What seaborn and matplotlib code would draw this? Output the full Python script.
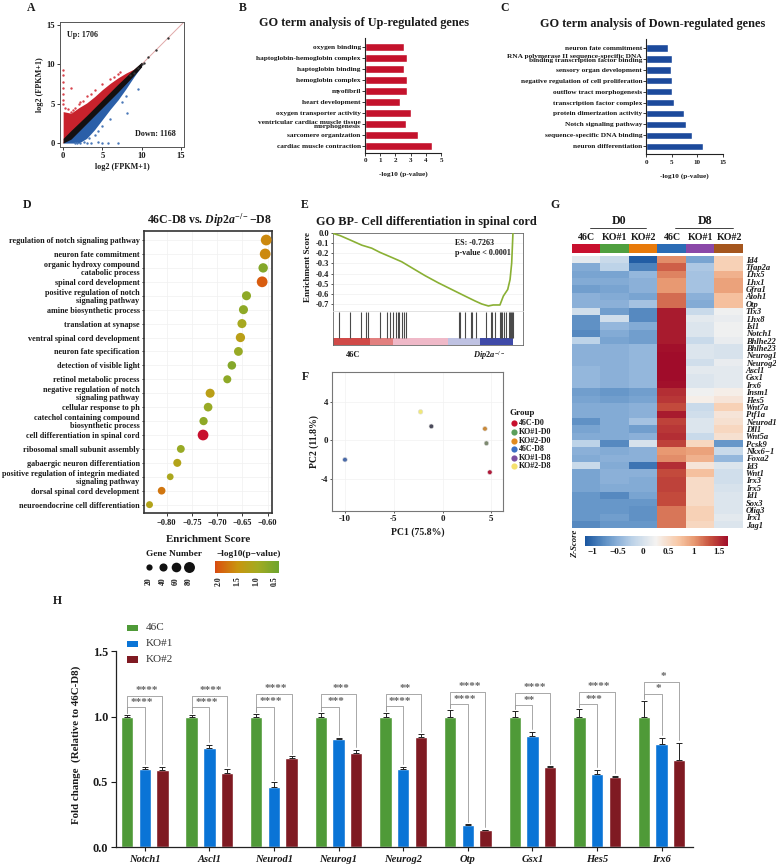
import numpy as np
import pandas as pd
import matplotlib
matplotlib.use("Agg")
import matplotlib.pyplot as plt
from matplotlib.colors import LinearSegmentedColormap, Normalize
from matplotlib.patches import Rectangle
import seaborn as sns

# =============================
# Panel A - scatter, dense clouds given as read-off envelopes plus single points
cloud_x = [0, 1, 2, 3, 4, 5, 6, 7, 8, 9, 10]
red_upper = [4.0, 3.8, 4.5, 5.1, 5.9, 6.8, 7.6, 8.3, 8.9, 9.4, 10.2]
blue_lower = [0.0, 0.0, 0.0, 0.6, 1.7, 3.0, 4.3, 5.5, 6.9, 8.4, 9.8]
core_upper = [0.6, 1.6, 2.55, 3.5, 4.5, 5.5, 6.5, 7.5, 8.45, 9.4, 10.3]
core_lower = [0.0, 0.5, 1.5, 2.5, 3.5, 4.5, 5.5, 6.5, 7.55, 8.6, 9.7]
red_x = [0, 0, 0, 0, 0, 0, 0, 1, 1.5, 2, 2.2, 0.3, 0.6, 1, 1.3, 2.5, 3, 3.5, 4, 5, 6, 7, 7.2, 6.5]
red_y = [9.3, 8.6, 7.8, 7, 6.3, 5.5, 5, 7, 4.5, 5, 5.2, 4.5, 4.3, 4, 4.2, 5.3, 6, 6.2, 6.7, 7.5, 8.2, 8.8, 9, 8.4]
blue_x = [1.5, 1.8, 2.2, 2.6, 3, 3.5, 4.5, 5, 5.7, 7, 3.3, 4, 4.5, 5, 6, 8.1, 9.5, 7.5, 8]
blue_y = [0, 0, 0, 0.1, 0, 0, 0.1, 0, 0, 0, 0.6, 1, 1.5, 2.2, 3, 3.8, 6.9, 5.2, 6]
black_x = [8.5, 9, 9.5, 10, 10.3, 10.8, 11.8, 13.4]
black_y = [8.6, 8.9, 9.6, 10.1, 10.2, 10.9, 11.8, 13.4]

# Panels B, C
up_terms = ["oxygen binding", "haptoglobin-hemoglobin complex", "haptoglobin binding", "hemoglobin complex",
            "myofibril", "heart development", "oxygen transporter activity",
            "ventricular cardiac muscle tissue\nmorphogenesis", "sarcomere organization", "cardiac muscle contraction"]
up_values = [2.55, 2.75, 2.55, 2.75, 2.75, 2.3, 3.0, 2.7, 3.5, 4.4]
down_terms = ["neuron fate commitment", "RNA polymerase II sequence-specific DNA\nbinding transcription factor binding",
              "sensory organ development", "negative regulation of cell proliferation", "outflow tract morphogenesis",
              "transcription factor complex", "protein dimerization activity", "Notch signaling pathway",
              "sequence-specific DNA binding", "neuron differentiation"]
down_values = [4.2, 5.0, 4.8, 5.05, 5.1, 5.5, 7.4, 7.8, 9.0, 11.2]

# Panel D
d_terms = ["regulation of notch signaling pathway", "neuron fate commitment",
           "organic hydroxy compound\ncatabolic process", "spinal cord development",
           "positive regulation of notch\nsignaling pathway", "amine biosynthetic process", "translation at synapse",
           "ventral spinal cord development", "neuron fate specification", "detection of visible light",
           "retinol metabolic process", "negative regulation of notch\nsignaling pathway", "cellular response to ph",
           "catechol containing compound\nbiosynthetic process", "cell differentiation in spinal cord",
           "ribosomal small subunit assembly", "gabaergic neuron differentiation",
           "positive regulation of integrin mediated\nsignaling pathway", "dorsal spinal cord development",
           "neuroendocrine cell differentiation"]
d_score = [-0.603, -0.605, -0.609, -0.611, -0.642, -0.648, -0.651, -0.654, -0.658, -0.671, -0.680,
           -0.714, -0.718, -0.727, -0.728, -0.772, -0.779, -0.793, -0.810, -0.834]
d_genes = [80, 80, 60, 85, 55, 55, 55, 58, 52, 48, 42, 55, 50, 45, 80, 40, 42, 28, 38, 30]
d_logp = [1.6, 1.6, 0.7, 1.95, 0.8, 0.8, 1.05, 1.3, 0.9, 0.7, 0.8, 1.3, 0.9, 0.8, 2.3, 0.9, 1.2, 1.1, 1.75, 1.2]

# Panel E
rank_pos = [0, 4.1, 9.6, 16.1, 21.6, 26.2, 32.7, 38.2, 43.7, 51.1, 58.5, 65.9, 73.2, 78.8, 82.5, 86.2, 88.9, 92.6,
            94.5, 96.9, 98.2, 99.1, 99.8]
es_values = [0, -0.023, -0.066, -0.118, -0.148, -0.19, -0.24, -0.283, -0.342, -0.421, -0.493, -0.559, -0.624, -0.673,
             -0.703, -0.723, -0.713, -0.713, -0.624, -0.559, -0.46, -0.296, 0]
hit_ranks = [3.7, 9.8, 15.9, 18.6, 19.7, 26, 30.2, 31.7, 33.6, 35, 36, 36.7, 38.2, 39.5, 40.4, 69.7, 70.3, 73.4,
             76.4, 77.3, 79.3, 85, 87.6, 88.3, 90, 92.4, 93.1, 94, 95.1, 96.2, 97.5, 98, 98.6, 99.1, 99.7]
rank_edges = [0, 20.7, 33.6, 64, 81.5, 100]
rank_colors = ["#d04a48", "#e2807f", "#efb9c8", "#bfc2e2", "#3f4aa8"]

# Panel F
pca_groups = ["46C-D0", "KO#1-D0", "KO#2-D0", "46C-D8", "KO#1-D8", "KO#2-D8"]
pc1 = [4.85, 4.5, 4.35, -10, -1.15, -2.25]
pc2 = [-3.3, -0.3, 1.2, -2.0, 1.45, 2.95]
pca_colors = ["#c8102e", "#5b9f5b", "#e08a1e", "#3a6fc4", "#7b4fa0", "#f5e06e"]
pca_dots = ["#b01a3a", "#7d8a70", "#c98a3a", "#4a6aa8", "#4a4a5a", "#f0e878"]

# Panel G
genes = ["Id4", "Tfap2a", "Lhx5", "Lhx1", "Gfra1", "Atoh1", "Otp", "Tlx3", "Lhx8", "Isl1", "Notch1", "Bhlhe22",
         "Bhlhe23", "Neurog1", "Neurog2", "Ascl1", "Gsx1", "Irx6", "Insm1", "Hes5", "Wnt7a", "Ptf1a", "Neurod1",
         "Dll1", "Wnt5a", "Pcsk9", "Nkx6\u22121", "Foxa2", "Id3", "Wnt1", "Irx3", "Irx5", "Id1", "Sox3", "Olig3",
         "Irx1", "Jag1"]
z_46c_d0 = [0.1, -0.55, -0.6, -0.55, -0.65, -0.5, -0.5, -0.05, -0.75, -0.75, -0.8, -0.2, -0.5, -0.5, -0.5, -0.45,
            -0.45, -0.45, -0.65, -0.6, -0.55, -0.55, -0.75, -0.6, -0.55, -0.2, -0.5, -0.55, -0.1, -0.6, -0.6, -0.6,
            -0.7, -0.7, -0.7, -0.7, -0.8]
z_ko1_d0 = [-0.1, -0.2, -0.6, -0.55, -0.6, -0.55, -0.5, -0.65, -0.05, -0.45, -0.55, -0.6, -0.5, -0.5, -0.5, -0.5,
            -0.5, -0.5, -0.7, -0.65, -0.55, -0.55, -0.55, -0.55, -0.55, -0.8, -0.55, -0.5, -0.55, -0.5, -0.5, -0.55,
            -0.8, -0.7, -0.7, -0.65, -0.7]
z_ko2_d0 = [-1.1, -0.85, -0.45, -0.5, -0.5, -0.6, -0.35, -0.8, -0.8, -0.55, -0.65, -0.65, -0.45, -0.45, -0.45, -0.45,
            -0.45, -0.45, -0.65, -0.6, -0.5, -0.5, -0.35, -0.65, -0.5, 0.0, -0.5, -0.5, -0.95, -0.5, -0.55, -0.55,
            -0.6, -0.7, -0.75, -0.75, -0.7]
z_46c_d8 = [1.05, 1.25, 1.1, 1.0, 1.0, 1.2, 1.2, 1.6, 1.6, 1.6, 1.6, 1.6, 1.65, 1.67, 1.67, 1.67, 1.67, 1.65, 1.5,
            1.45, 1.35, 1.6, 1.4, 1.45, 1.5, 1.4, 1.0, 1.05, 1.5, 1.35, 1.4, 1.4, 1.35, 1.35, 1.15, 1.15, 1.15]
z_ko1_d8 = [-0.6, -0.3, -0.35, -0.35, -0.35, -0.5, -0.55, -0.1, 0.1, 0.05, 0.05, -0.1, 0.05, 0.05, -0.05, 0.1, 0.05,
            0.05, 0.2, 0.3, -0.1, -0.05, 0.05, 0.05, -0.1, 0.55, 0.95, 0.85, 0.4, 0.75, 0.5, 0.5, 0.5, 0.5, 0.6, 0.6,
            0.55]
z_ko2_d8 = [0.6, 0.6, 0.85, 0.95, 0.95, 0.75, 0.75, 0.2, 0.15, 0.2, 0.2, 0.15, 0.0, 0.0, 0.15, 0.1, 0.1, 0.1, 0.3,
            0.4, 0.6, 0.4, 0.45, 0.55, 0.45, -0.7, -0.1, -0.45, 0.05, -0.05, -0.05, 0.0, 0.05, 0.05, 0.05, 0.1, 0.05]
heat_cols = ["46C", "KO#1", "KO#2", "46C ", "KO#1 ", "KO#2 "]
anno_colors = ["#c8102e", "#4f9f3f", "#e87a0a", "#2b6cb5", "#8a48a8", "#a5561e"]

# Panel H
h_genes = ["Notch1", "Ascl1", "Neurod1", "Neurog1", "Neurog2", "Otp", "Gsx1", "Hes5", "Irx6"]
h_46c = [1.0] * 9
h_ko1 = [0.60, 0.76, 0.46, 0.825, 0.60, 0.165, 0.85, 0.56, 0.79]
h_ko2 = [0.59, 0.57, 0.685, 0.72, 0.845, 0.13, 0.61, 0.54, 0.67]
err_46c = [0.015, 0.015, 0.02, 0.03, 0.03, 0.05, 0.045, 0.055, 0.12]
err_ko1 = [0.015, 0.025, 0.035, 0.01, 0.015, 0.01, 0.035, 0.03, 0.045]
err_ko2 = [0.025, 0.03, 0.01, 0.025, 0.02, 0.003, 0.01, 0.005, 0.13]
inner_level = [1.07, 1.07, 1.075, 1.075, 1.08, 1.097, 1.087, 1.094, 1.176]
outer_level = [1.16, 1.16, 1.17, 1.17, 1.175, 1.19, 1.18, 1.186, 1.268]
inner_stars = ["****", "****", "****", "***", "****", "****", "**", "***", "*"]
outer_stars = ["****", "****", "****", "***", "**", "****", "****", "****", "*"]

# =============================

W, H = 776, 868
sns.set_theme(style="white")
plt.rcParams["font.family"] = ["Liberation Serif", "DejaVu Serif"]
plt.rcParams["font.weight"] = "bold"
plt.rcParams["mathtext.fontset"] = "custom"
plt.rcParams["mathtext.rm"] = "Liberation Serif:bold"
plt.rcParams["mathtext.it"] = "Liberation Serif:italic:bold"
plt.rcParams["mathtext.bf"] = "Liberation Serif:bold"
plt.rcParams["axes.unicode_minus"] = True
TXT = "#1a1a1a"

fig = plt.figure(figsize=(W / 100, H / 100), dpi=100)


def add(left, top, right, bottom, **kw):
    # axes from pixel edges of the reference
    return fig.add_axes([left / W, 1 - bottom / H, (right - left) / W, (bottom - top) / H], **kw)


# overlay in pixel coordinates for letters, headings and legends
ov = add(0, 0, W, H, zorder=20)
ov.set_xlim(0, W)
ov.set_ylim(H, 0)
ov.axis("off")
ov.patch.set_alpha(0)


def label(x, y, s, size=6, ha="center", va="center", **kw):
    ov.text(x, y, s, fontsize=size, ha=ha, va=va, color=kw.pop("color", TXT), **kw)


for letter, lx, ly in [("A", 31, 8), ("B", 243, 8), ("C", 505, 8), ("D", 27, 205),
                       ("E", 305, 205), ("F", 305, 377), ("G", 555, 205), ("H", 57, 601)]:
    label(lx, ly, letter, size=8.5)

# ---- A
ax = add(60, 22, 184, 147)
ax.set_xlim(-0.4, 15.4)
ax.set_ylim(-0.5, 15.4)
ax.plot([0, 15.4], [0, 15.4], color="#e0a8a8", lw=0.7, zorder=1)
ax.fill_between(cloud_x, cloud_x, red_upper, color="#c8222c", lw=0, zorder=2)
ax.fill_between(cloud_x, blue_lower, cloud_x, color="#2b5fa8", lw=0, zorder=2)
ax.fill_between(cloud_x, core_lower, core_upper, color="#141010", lw=0, zorder=3)
sns.scatterplot(x=red_x, y=red_y, color="#d8434c", s=3, linewidth=0, ax=ax, zorder=2)
sns.scatterplot(x=blue_x, y=blue_y, color="#4a78b8", s=3, linewidth=0, ax=ax, zorder=2)
sns.scatterplot(x=black_x, y=black_y, color="#333333", s=3, linewidth=0, ax=ax, zorder=3)
ax.set_xticks([0, 5, 10, 15])
ax.set_yticks([0, 5, 10, 15])
ax.tick_params(labelsize=6.2, length=2, width=0.6, pad=1.5, left=True, bottom=True, colors=TXT)
for sp in ax.spines.values():
    sp.set_linewidth(0.7)
    sp.set_color("#555555")
ax.text(0.5, 13.7, "Up: 1706", fontsize=5.8, va="center", color=TXT)
ax.text(9.2, 1.1, "Down: 1168", fontsize=5.9, va="center", color=TXT)
ax.set_xlabel("log2 (FPKM+1)", fontsize=5.9, labelpad=2, color=TXT, fontweight="bold")
ax.set_ylabel("log2 (FPKM+1)", fontsize=5.9, labelpad=2, color=TXT, fontweight="bold")


def go_bars(ax, terms, values, color, xmax, xticks, ylim):
    df = pd.DataFrame({"term": terms, "value": values})
    sns.barplot(data=df, x="value", y="term", color=color, width=0.7, saturation=1, ax=ax)
    ax.set_xlim(0, xmax)
    ax.set_ylim(*ylim)
    ax.set_xticks(xticks)
    ax.set_xlabel("-log10 (p-value)", fontsize=5.2, labelpad=6, color=TXT, fontweight="bold")
    ax.set_ylabel("")
    ax.tick_params(axis="x", labelsize=5, length=2, width=0.6, pad=2, bottom=True, colors=TXT)
    ax.tick_params(axis="y", labelsize=5.3, length=2, width=0.6, pad=1, left=True, colors=TXT)
    for lab in ax.get_yticklabels():
        lab.set_linespacing(0.8)
    sns.despine(ax=ax)
    for sp in ("left", "bottom"):
        ax.spines[sp].set_linewidth(0.8)
        ax.spines[sp].set_color("#222222")


# ---- B
ax = add(365, 38, 441, 152.7)
go_bars(ax, up_terms, up_values, "#c4122c", 5, [0, 1, 2, 3, 4, 5], (9.6, -0.85))
label(364, 23, "GO term analysis of Up-regulated genes", size=8.8)

# ---- C
ax = add(646.3, 39, 722.7, 154)
go_bars(ax, down_terms, down_values, "#1c4a9c", 15, [0, 5, 10, 15], (9.7, -0.8))
label(653, 24, "GO term analysis of Down-regulated genes", size=8.8)

# ---- D
logp_cmap = LinearSegmentedColormap.from_list(
    "logp", [(0, "#6fa52f"), (0.278, "#a3ab22"), (0.556, "#c9960f"), (0.833, "#d9560f"), (1, "#c8102e")])
logp_norm = Normalize(0.5, 2.3)
ax = add(143.7, 230.7, 272, 513)
d_df = pd.DataFrame({"term": d_terms, "score": d_score, "genes": d_genes, "logp": d_logp})
d_df["row"] = np.arange(len(d_df))
sns.scatterplot(data=d_df, x="score", y="row", size="genes", sizes=(18, 60), size_norm=(20, 80),
                hue="logp", palette=logp_cmap, hue_norm=logp_norm, linewidth=0, legend=False,
                ax=ax, clip_on=False, zorder=3)
ax.set_xlim(-0.8455, -0.5915)
ax.set_ylim(19.6, -0.67)
ax.set_yticks(d_df["row"], d_terms)
ax.set_xticks([-0.80, -0.75, -0.70, -0.65, -0.60], ["\u22120.80", "\u22120.75", "\u22120.70", "\u22120.65", "\u22120.60"])
ax.grid(True, color="#f0f0f0", lw=0.5)
ax.set_axisbelow(True)
ax.tick_params(axis="x", labelsize=6, length=2, width=0.6, pad=2, bottom=True, colors=TXT)
ax.tick_params(axis="y", labelsize=5.9, length=1.5, width=0.6, pad=1.5, left=True, colors=TXT)
for lab in ax.get_yticklabels():
    lab.set_linespacing(1.0)
ax.set_xlabel("Enrichment Score", fontsize=7.8, labelpad=6, color=TXT, fontweight="bold")
ax.set_ylabel("")
for sp in ax.spines.values():
    sp.set_linewidth(1.2)
    sp.set_color("#333333")
label(209, 220, r"46C-D8 vs. $\mathit{Dip2a}^{-/-}$$-$D8", size=8.5)

# legends of D
label(174.5, 554, "Gene Number", size=6.7)
label(248.5, 554, "\u2212log10(p\u2212value)", size=6.7)
for gx, gn, gs in zip([149, 162.7, 175.7, 189], [20, 40, 60, 80], [20, 34, 48, 62]):
    ov.scatter(gx, 567, s=gs, color="#111111", linewidth=0)
    label(gx, 581, str(gn), size=5.6, rotation=90)
grad = add(215, 560.7, 278.7, 573)
grad.imshow(np.linspace(2.05, 0.5, 64).reshape(1, -1), aspect="auto", cmap=logp_cmap, norm=logp_norm)
grad.axis("off")
for tx, tv in zip([219, 237.7, 256.7, 275], ["2.0", "1.5", "1.0", "0.5"]):
    label(tx, 581, tv, size=5.6, rotation=90)

# ---- E
ax = add(332.7, 233.3, 522.7, 310.7)
sns.lineplot(x=rank_pos, y=es_values, color="#8ab034", lw=1.2, ax=ax, estimator=None, zorder=3)
ax.set_xlim(0, 105.2)
ax.set_ylim(-0.77, 0.0)
ax.set_xticks([])
ax.set_yticks([0, -0.1, -0.2, -0.3, -0.4, -0.5, -0.6, -0.7],
              ["0.0", "-0.1", "-0.2", "-0.3", "-0.4", "-0.5", "-0.6", "-0.7"])
ax.tick_params(axis="y", labelsize=6, length=1.5, width=0.5, pad=1, left=True, colors=TXT)
ax.grid(True, color="#f0f0f0", lw=0.5)
ax.text(67.7, -0.097, "ES: -0.7263", fontsize=5.8, va="center", color=TXT)
ax.text(67.7, -0.196, "p-value < 0.0001", fontsize=5.8, va="center", color=TXT)
for sp in ax.spines.values():
    sp.set_linewidth(0.6)
    sp.set_color("#666666")
ax.spines["bottom"].set_visible(False)
ax = add(332.7, 310.7, 522.7, 345)
ax.set_xlim(0, 105.2)
ax.set_ylim(0, 1)
ax.vlines(hit_ranks, 0.2, 0.97, color="#4a4a4a", lw=0.8)
for i, c in enumerate(rank_colors):
    ax.add_patch(Rectangle((rank_edges[i], 0), rank_edges[i + 1] - rank_edges[i], 0.2, color=c, lw=0))
ax.set_xticks([])
ax.set_yticks([])
for sp in ax.spines.values():
    sp.set_linewidth(0.6)
    sp.set_color("#666666")
ax.spines["top"].set_color("#dddddd")
label(308, 267, "Enrichment Score", size=6.6, rotation=90)
label(426.7, 221.7, "GO BP- Cell differentiation in spinal cord", size=8.8)
label(353, 355, "46C", size=6)
label(489, 355, r"$\mathit{Dip2a}^{-/-}$", size=6)

# ---- F
ax = add(332, 371.7, 503.3, 511)
pca_df = pd.DataFrame({"pc1": pc1, "pc2": pc2, "group": pca_groups})
sns.scatterplot(data=pca_df, x="pc1", y="pc2", hue="group", palette=pca_dots, s=11, linewidth=0.4,
                edgecolor="#dddddd", legend=False, ax=ax, zorder=3)
ax.set_xlim(-11.33, 6.23)
ax.set_ylim(-7.31, 7.1)
ax.set_xticks([-10, -5, 0, 5], ["-10", "-5", "0", "5"])
ax.set_yticks([-4, 0, 4], ["-4", "0", "4"])
ax.grid(True, color="#f2f2f2", lw=0.5)
ax.set_axisbelow(True)
ax.tick_params(labelsize=6.5, length=1.5, width=0.5, pad=1.5, left=True, bottom=True, colors=TXT)
ax.set_xlabel("PC1 (75.8%)", fontsize=7, labelpad=3, color=TXT, fontweight="bold")
ax.set_ylabel("PC2 (11.8%)", fontsize=7, labelpad=1, color=TXT, fontweight="bold")
for sp in ax.spines.values():
    sp.set_linewidth(0.8)
    sp.set_color("#777777")
label(510, 412.7, "Group", size=6.5, ha="left")
for gy, g, c in zip([422.7, 431.7, 441, 449.3, 457.7, 466.3], pca_groups, pca_colors):
    ov.scatter(513.7, gy, s=20, color=c, linewidth=0)
    label(519, gy, g, size=5.8, ha="left")

# ---- G
z_cmap = LinearSegmentedColormap.from_list(
    "z", [(0, "#1a56a0"), (0.14, "#5f91c5"), (0.23, "#8cb1d9"), (0.33, "#bcd2e8"), (0.495, "#f5f3f1"),
          (0.65, "#f8c9a8"), (0.76, "#e89a72"), (0.87, "#c8533f"), (1, "#a00c2a")])
heat = pd.DataFrame({"a": z_46c_d0, "b": z_ko1_d0, "c": z_ko2_d0, "d": z_46c_d8, "e": z_ko1_d8, "f": z_ko2_d8},
                    index=genes)
heat.columns = heat_cols
ax = add(572, 256, 742.7, 528.3)
cax = add(585, 536, 728.3, 545.7)
sns.heatmap(heat, cmap=z_cmap, vmin=-1.15, vmax=1.68, ax=ax, cbar_ax=cax, cbar_kws={"orientation": "horizontal"},
            xticklabels=False, yticklabels=True, linewidths=0)
ax.yaxis.tick_right()
ax.tick_params(axis="y", length=0, pad=2.2, labelsize=6.1, labelrotation=0, colors=TXT)
for lab in ax.get_yticklabels():
    lab.set_fontstyle("italic")
ax.set_ylabel("")
cax.set_xticks([-1, -0.5, 0, 0.5, 1, 1.5], ["\u22121", "\u22120.5", "0", "0.5", "1", "1.5"])
cax.tick_params(labelsize=6.6, length=0, pad=1.5, colors=TXT)
label(575, 544, "Z-Score", size=6.2, rotation=90, style="italic")
anno = add(572, 244, 742.7, 253.3)
anno.bar(range(6), [1] * 6, width=1, color=anno_colors, linewidth=0)
anno.set_xlim(-0.5, 5.5)
anno.set_ylim(0, 1)
anno.axis("off")
for cx, name in zip([586.7, 615, 643.3, 672.3, 700.7, 729.3], ["46C", "KO#1", "KO#2", "46C", "KO#1", "KO#2"]):
    label(cx, 237.7, name, size=7.2)
label(619, 221.5, "D0", size=8.6)
label(705, 221.5, "D8", size=8.6)
ov.plot([590, 646], [228.3, 228.3], color="#222222", lw=0.6)
ov.plot([675, 732.7], [228.3, 228.3], color="#222222", lw=0.6)

# ---- H
ax = add(115.7, 651.3, 693.3, 847)
h_df = pd.DataFrame({"gene": h_genes * 3, "line": ["46C"] * 9 + ["KO#1"] * 9 + ["KO#2"] * 9,
                     "fold": h_46c + h_ko1 + h_ko2, "err": err_46c + err_ko1 + err_ko2})
h_pal = {"46C": "#4f9a38", "KO#1": "#0a74d6", "KO#2": "#7f1a22"}
sns.barplot(data=h_df, x="gene", y="fold", hue="line", palette=h_pal, width=0.82, gap=0.3, saturation=1,
            errorbar=None, legend=False, ax=ax)
step = 0.82 / 3
for k, (line, c) in enumerate(h_pal.items()):
    sub = h_df[h_df["line"] == line]
    ax.errorbar(np.arange(9) + (k - 1) * step, sub["fold"], yerr=[np.zeros(9), sub["err"]], fmt="none",
                ecolor="#222222", elinewidth=0.7, capsize=2.4, capthick=0.7, zorder=3)
x0, x1, x2 = -step, 0, step
for i in range(9):
    top0 = 1 + err_46c[i] + 0.015
    ax.plot([i + x0, i + x0, i + x1, i + x1], [top0, inner_level[i], inner_level[i], h_ko1[i] + err_ko1[i] + 0.02],
            color="#9a9a9a", lw=0.6, zorder=2)
    ax.plot([i + x0, i + x0, i + x2, i + x2], [top0, outer_level[i], outer_level[i], h_ko2[i] + err_ko2[i] + 0.02],
            color="#9a9a9a", lw=0.6, zorder=2)
    ax.text(i + (x0 + x1) / 2 + 0.09, inner_level[i] + 0.002, inner_stars[i], ha="center", va="bottom",
            fontsize=8, color="#666666", clip_on=False)
    ax.text(i + 0.03, outer_level[i] + 0.008, outer_stars[i], ha="center", va="bottom", fontsize=8,
            color="#666666", clip_on=False)
ax.set_xlim(-0.449, 8.49)
ax.set_ylim(0, 1.5)
ax.set_yticks([0, 0.5, 1.0, 1.5], ["0.0", "0.5", "1.0", "1.5"])
ax.tick_params(axis="y", labelsize=8.8, length=3.6, width=0.8, pad=2, left=True, colors=TXT)
ax.tick_params(axis="x", labelsize=7.6, length=3, width=0.8, pad=2.5, bottom=True, colors=TXT)
for lab in ax.get_xticklabels():
    lab.set_fontstyle("italic")
ax.set_xlabel("")
ax.set_ylabel("")
sns.despine(ax=ax)
for sp in ("left", "bottom"):
    ax.spines[sp].set_linewidth(0.9)
    ax.spines[sp].set_color("#222222")
label(76, 745, "Fold change  (Relative to 46C-D8)", size=7.8, rotation=90)
for ly, (name, c) in zip([628, 644, 659.7], h_pal.items()):
    ov.add_patch(Rectangle((126.7, ly - 3.3), 11.7, 6.6, color=c, lw=0))
    label(145.7, ly, name, size=8, ha="left", fontweight="normal", color="#333333")

fig.savefig("out.png", dpi=100)
